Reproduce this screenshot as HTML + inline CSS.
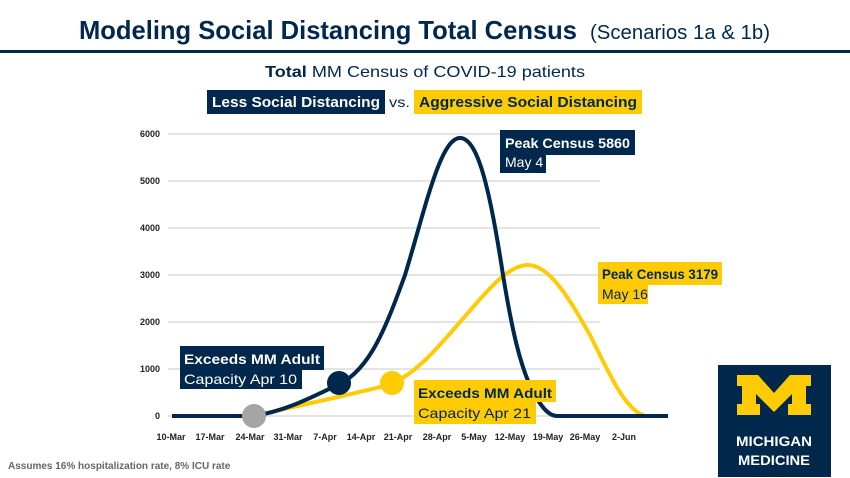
<!DOCTYPE html>
<html><head><meta charset="utf-8"><style>body{margin:0;background:#fff}svg{display:block}</style></head><body>
<svg width="850" height="478" xmlns="http://www.w3.org/2000/svg" font-family="Liberation Sans, sans-serif">
<rect width="850" height="478" fill="#fff"/>
<text x="79" y="39" font-size="26" font-weight="bold" fill="#00274c" textLength="498" lengthAdjust="spacingAndGlyphs">Modeling Social Distancing Total Census</text>
<text x="590" y="39" font-size="20" fill="#00274c" textLength="180" lengthAdjust="spacingAndGlyphs">(Scenarios 1a &amp; 1b)</text>
<rect x="0" y="50" width="850" height="3" fill="#00274c"/>
<text x="265" y="77" font-size="16" fill="#00274c" textLength="320" lengthAdjust="spacingAndGlyphs"><tspan font-weight="bold">Total</tspan> MM Census of COVID-19 patients</text>
<rect x="207" y="90" width="178" height="24" fill="#00274c"/>
<text x="212" y="107" font-size="15" font-weight="bold" fill="#fff" textLength="168" lengthAdjust="spacingAndGlyphs">Less Social Distancing</text>
<text x="389" y="107" font-size="14" fill="#00274c" textLength="21" lengthAdjust="spacingAndGlyphs">vs.</text>
<rect x="414" y="90" width="228" height="24" fill="#ffcb05"/>
<text x="419" y="107" font-size="15" font-weight="bold" fill="#00274c" textLength="218" lengthAdjust="spacingAndGlyphs">Aggressive Social Distancing</text>
<g stroke="#dcdcdc" stroke-width="1.5">
<line x1="168" y1="134" x2="600" y2="134"/><line x1="168" y1="181" x2="600" y2="181"/><line x1="168" y1="228" x2="600" y2="228"/><line x1="168" y1="275" x2="600" y2="275"/><line x1="168" y1="322" x2="600" y2="322"/><line x1="168" y1="369" x2="600" y2="369"/><line x1="168" y1="416" x2="600" y2="416"/>
</g>
<g font-size="9" font-weight="bold" fill="#222" text-anchor="end">
<text x="160" y="137">6000</text><text x="160" y="184">5000</text><text x="160" y="231">4000</text><text x="160" y="278">3000</text><text x="160" y="325">2000</text><text x="160" y="372">1000</text><text x="160" y="419">0</text>
</g>
<g font-size="9" font-weight="bold" fill="#222" text-anchor="middle">
<text x="171" y="440">10-Mar</text><text x="210" y="440">17-Mar</text><text x="250" y="440">24-Mar</text><text x="288" y="440">31-Mar</text><text x="325" y="440">7-Apr</text><text x="361" y="440">14-Apr</text><text x="398" y="440">21-Apr</text><text x="437" y="440">28-Apr</text><text x="474" y="440">5-May</text><text x="510" y="440">12-May</text><text x="548" y="440">19-May</text><text x="585" y="440">26-May</text><text x="624" y="440">2-Jun</text>
</g>
<path d="M254,416 C300,405 350,395 392,384 C420,370 440,345 460,322 C480,300 505,265 528,265 C550,265 570,300 590,335 C610,375 625,410 645,416 L668,416" fill="none" stroke="#ffcb05" stroke-width="4"/>
<path d="M172,416 L254,416 C290,410 315,395 340,384 C370,368 385,330 405,275 C425,210 440,138 460,138 C478,138 490,190 503,275 C512,330 520,365 532,390 C540,405 548,416 557,416 L668,416" fill="none" stroke="#00274c" stroke-width="4"/>
<circle cx="254" cy="416" r="12" fill="#a5a5a5"/>
<circle cx="339" cy="383" r="12" fill="#00274c"/>
<circle cx="392" cy="383" r="12" fill="#ffcb05"/>
<rect x="500" y="130" width="135" height="25" fill="#00274c"/>
<rect x="500" y="153" width="46" height="20" fill="#00274c"/>
<text x="505" y="148" font-size="14" font-weight="bold" fill="#fff" textLength="125" lengthAdjust="spacingAndGlyphs">Peak Census 5860</text>
<text x="505" y="167" font-size="14" fill="#fff">May 4</text>
<rect x="598" y="262" width="124" height="23" fill="#ffcb05"/>
<rect x="598" y="283" width="50" height="21" fill="#ffcb05"/>
<text x="602" y="279" font-size="14" font-weight="bold" fill="#00274c" textLength="116" lengthAdjust="spacingAndGlyphs">Peak Census 3179</text>
<text x="602" y="299" font-size="14" fill="#00274c">May 16</text>
<rect x="180" y="346" width="144" height="24" fill="#00274c"/>
<rect x="180" y="368" width="122" height="21" fill="#00274c"/>
<text x="184" y="364" font-size="14" font-weight="bold" fill="#fff" textLength="136" lengthAdjust="spacingAndGlyphs">Exceeds MM Adult</text>
<text x="184" y="384" font-size="14" fill="#fff" textLength="113" lengthAdjust="spacingAndGlyphs">Capacity Apr 10</text>
<rect x="414" y="380" width="142" height="22" fill="#ffcb05"/>
<rect x="414" y="400" width="122" height="24" fill="#ffcb05"/>
<text x="418" y="398" font-size="14" font-weight="bold" fill="#00274c" textLength="134" lengthAdjust="spacingAndGlyphs">Exceeds MM Adult</text>
<text x="418" y="418" font-size="14" fill="#00274c" textLength="113" lengthAdjust="spacingAndGlyphs">Capacity Apr 21</text>
<text x="8" y="469" font-size="10" font-weight="bold" fill="#666">Assumes 16% hospitalization rate, 8% ICU rate</text>
<rect x="718" y="365" width="113" height="112" fill="#00274c"/>
<path d="M737,375 L758,375 L774,393 L790,375 L811,375 L811,386 L806,386 L806,404 L811,404 L811,415 L788,415 L788,404 L792,404 L792,394 L774,412 L756,394 L756,404 L760,404 L760,415 L737,415 L737,404 L742,404 L742,386 L737,386 Z" fill="#ffcb05"/>
<text x="774" y="446" font-size="14" font-weight="bold" fill="#fff" text-anchor="middle" textLength="76" lengthAdjust="spacingAndGlyphs">MICHIGAN</text>
<text x="774" y="465" font-size="14" font-weight="bold" fill="#fff" text-anchor="middle" textLength="72" lengthAdjust="spacingAndGlyphs">MEDICINE</text>
</svg>
</body></html>
